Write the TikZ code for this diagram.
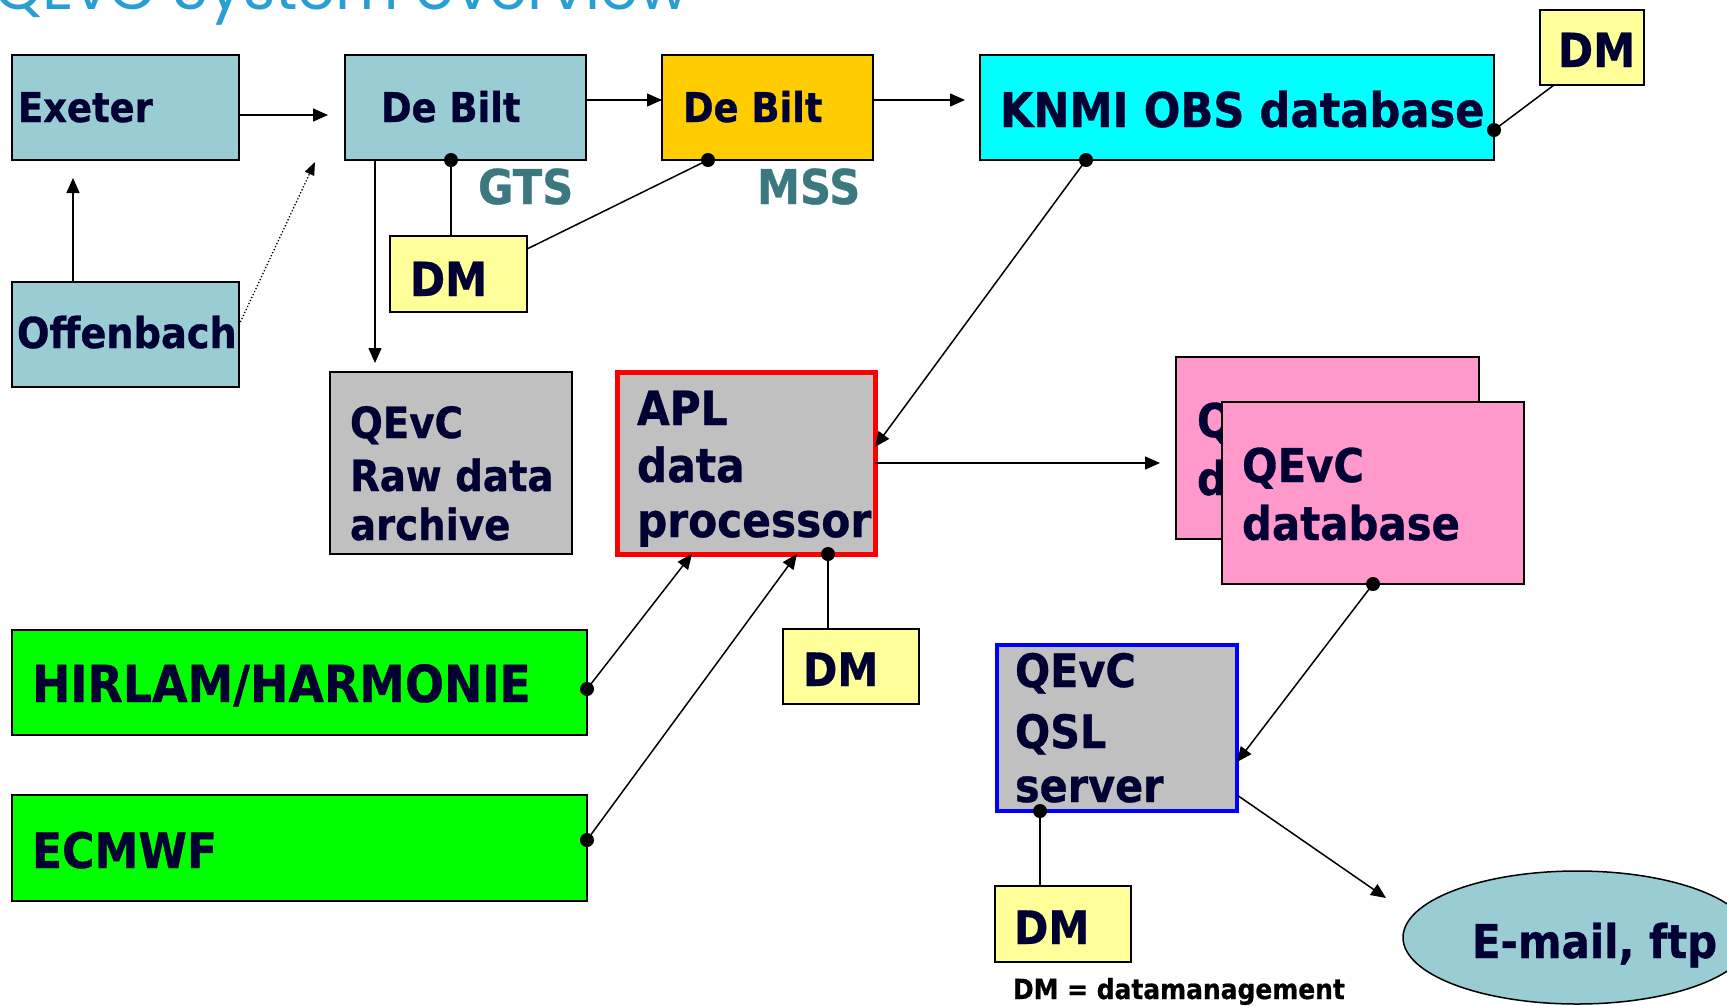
\documentclass[tikz,border=0pt]{standalone}
\usepackage{fontspec}
\setmainfont{DejaVu Sans}
\newfontfamily\labfont[FakeStretch=0.9,BoldFeatures={FakeBold=0.7}]{DejaVu Sans}
\newfontfamily\titlefont{Poppins}
\usetikzlibrary{shapes.geometric,arrows.meta}
\definecolor{navy}{RGB}{0,0,51}
\definecolor{cblue}{RGB}{153,204,211}
\definecolor{cyellow}{RGB}{255,204,0}
\definecolor{ccyan}{RGB}{0,255,255}
\definecolor{cdm}{RGB}{255,255,153}
\definecolor{cgray}{RGB}{192,192,192}
\definecolor{cpink}{RGB}{255,153,204}
\definecolor{cgreen}{RGB}{0,255,0}
\definecolor{ctitle}{RGB}{42,157,210}
\definecolor{cteal}{RGB}{59,120,128}
\newcommand\labsize[1]{\labfont\bfseries\fontsize{#1}{#1}\selectfont}
\begin{document}
\begin{tikzpicture}[x=1pt,y=-1pt,
  box/.style={draw=black, line width=2pt, rectangle, inner sep=0pt, outer sep=0pt},
  txt/.style={anchor=base west, inner sep=0pt, outer sep=0pt, text=navy},
  conn/.style={line width=1.5pt, draw=black},
  arr/.style={conn, -{Triangle[length=15pt,width=13pt]}},
  dot/.style={circle, fill=black, inner sep=0pt, minimum size=14pt}]
\clip (0,0) rectangle (1727,1005);
\fill[white] (0,0) rectangle (1727,1005);

% title (cut off at top)
\node[anchor=base west, inner sep=0pt, text=ctitle, font=\titlefont\fontsize{61.5}{61.5}\selectfont] (title) at (-6,9) {QEvC System overview};

% boxes
\node[box, fill=cblue, minimum width=227pt, minimum height=105pt] (exeter) at (125.5,107.5) {};
\node[box, fill=cblue, minimum width=241pt, minimum height=105pt] (debilt) at (465.5,107.5) {};
\node[box, fill=cyellow, minimum width=211pt, minimum height=105pt] (debiltY) at (767.5,107.5) {};
\node[box, fill=ccyan, minimum width=514pt, minimum height=105pt] (knmi) at (1237,107.5) {};
\node[box, fill=cdm, minimum width=104pt, minimum height=75pt] (dmTR) at (1592,47.5) {};
\node[box, fill=cdm, minimum width=137pt, minimum height=76pt] (dm1) at (458.5,274) {};
\node[box, fill=cblue, minimum width=227pt, minimum height=105pt] (offen) at (125.5,334.5) {};
\node[box, fill=cgray, minimum width=242pt, minimum height=182pt] (raw) at (451,463) {};
\node[box, draw=red, line width=5pt, fill=cgray, minimum width=258pt, minimum height=182pt] (apl) at (746,463) {};
\node[box, fill=cpink, minimum width=303pt, minimum height=182pt] (pinkB) at (1327.5,448) {};
\node[txt, font=\labsize{46.5}] (pbA) at (1197,437) {QEvC};
\node[txt, font=\labsize{46.5}] (pbB) at (1197,495) {database};
\node[box, fill=cpink, minimum width=302pt, minimum height=182pt] (pinkF) at (1373,493) {};
\node[box, fill=cgreen, minimum width=575pt, minimum height=105pt] (hirlam) at (299.5,682.5) {};
\node[box, fill=cgreen, minimum width=575pt, minimum height=106pt] (ecmwf) at (299.5,848) {};
\node[box, fill=cdm, minimum width=136pt, minimum height=75pt] (dm2) at (851,666.5) {};
\node[box, draw=blue, line width=4.5pt, fill=cgray, minimum width=240pt, minimum height=166pt] (qsl) at (1117,728) {};
\node[box, fill=cdm, minimum width=136pt, minimum height=76pt] (dm3) at (1063,924) {};
\node[ellipse, draw=black, line width=1.5pt, fill=cblue, minimum width=348pt, minimum height=133pt, inner sep=0pt] (mail) at (1577,937.5) {};

% texts
\node[txt, font=\labsize{41}] (tExeter) at (18,122) {Exeter};
\node[txt, font=\labsize{41}] (tDebilt) at (381,122) {De Bilt};
\node[txt, font=\labsize{41}] (tDebiltY) at (683,122) {De Bilt};
\node[txt, font=\labsize{48}] (tKnmi) at (1000,127) {KNMI OBS database};
\node[txt, font=\labsize{47}] (tDmTR) at (1558,67) {DM};
\node[txt, font=\labsize{48}, text=cteal] (tGts) at (478,204) {GTS};
\node[txt, font=\labsize{48}, text=cteal] (tMss) at (757,204) {MSS};
\node[txt, font=\labsize{47}] (tDm1) at (410,296) {DM};
\node[txt, font=\labsize{42.5}] (tOffen) at (17,348) {Offenbach};
\node[txt, font=\labsize{43}] (tRawA) at (350,438) {QEvC};
\node[txt, font=\labsize{43}] (tRawB) at (350,491) {Raw data};
\node[txt, font=\labsize{43}] (tRawC) at (350,540) {archive};
\node[txt, font=\labsize{47}] (tAplA) at (637,425) {APL};
\node[txt, font=\labsize{47}] (tAplB) at (637,482) {data};
\node[txt, font=\labsize{47}] (tAplC) at (637,537) {processor};
\node[txt, font=\labsize{46.5}] (tPinkA) at (1242,482) {QEvC};
\node[txt, font=\labsize{46.5}] (tPinkB) at (1242,540) {database};
\node[txt, font=\labsize{51}] (tHirlam) at (32,702) {HIRLAM/HARMONIE};
\node[txt, font=\labsize{49}] (tEcmwf) at (32,868) {ECMWF};
\node[txt, font=\labsize{46}] (tDm2) at (803,686) {DM};
\node[txt, font=\labsize{46}] (tQslA) at (1015,687) {QEvC};
\node[txt, font=\labsize{46}] (tQslB) at (1015,748) {QSL};
\node[txt, font=\labsize{46}] (tQslC) at (1015,802) {server};
\node[txt, font=\labsize{46}] (tDm3) at (1014,944) {DM};
\node[txt, font=\labsize{46.5}] (tMail) at (1472,958) {E-mail, ftp};
\node[txt, font=\labsize{27.7}, text=black] (tLegend) at (1013,999) {DM = datamanagement};

% free ends
\coordinate (c1) at (328,115);
\coordinate (c2) at (73,178);
\coordinate (c3) at (315,162);
\coordinate (c5) at (965,100);
\coordinate (c6) at (375,363);
\coordinate (c11) at (1160,463);
\coordinate (c17) at (1386,898);

% connectors
\draw[arr] (exeter.east |- c1) -- (c1);
\draw[arr] (c2 |- offen.north) -- (c2);
\draw[conn, line width=1.3pt, dotted, -{Triangle[length=13pt,width=10pt]}] ([yshift=9.5pt]offen.east) -- (c3);
\draw[arr] ([yshift=7.5pt]debilt.east) -- ([yshift=7.5pt]debiltY.west);
\draw[arr] ([yshift=7.5pt]debiltY.east) -- (c5);
\draw[arr] (c6 |- debilt.south) -- (c6);
\draw[conn] ([xshift=-14.5pt]debilt.south) node[dot] (d1) {} -- ([xshift=-7.5pt]dm1.north);
\draw[conn] ([xshift=-59.5pt]debiltY.south) node[dot] (d2) {} -- ([yshift=25pt]dm1.east);
\draw[conn] ([yshift=-22.5pt]knmi.east) node[dot] (d3) {} -- ([xshift=-38pt]dmTR.south);
\draw[arr] ([xshift=-151pt]knmi.south) node[dot] (d4) {} -- ([yshift=16pt]apl.east);
\draw[arr] (apl.east) -- (c11);
\draw[arr] ([yshift=-6.5pt]hirlam.east) node[dot] (d5) {} -- ([xshift=-54pt]apl.south);
\draw[arr] ([yshift=8pt]ecmwf.east) node[dot] (d6) {} -- ([xshift=51pt]apl.south);
\draw[conn] ([xshift=82pt]apl.south) node[dot] (d7) {} -- ([xshift=-23pt]dm2.north);
\draw[arr] (pinkF.south) node[dot] (d8) {} -- ([yshift=-34pt]qsl.east);
\draw[conn] ([xshift=-77pt]qsl.south) node[dot] (d9) {} -- ([xshift=-23pt]dm3.north);
\draw[arr] ([yshift=-67pt]qsl.east) -- (c17);
\end{tikzpicture}
\end{document}
